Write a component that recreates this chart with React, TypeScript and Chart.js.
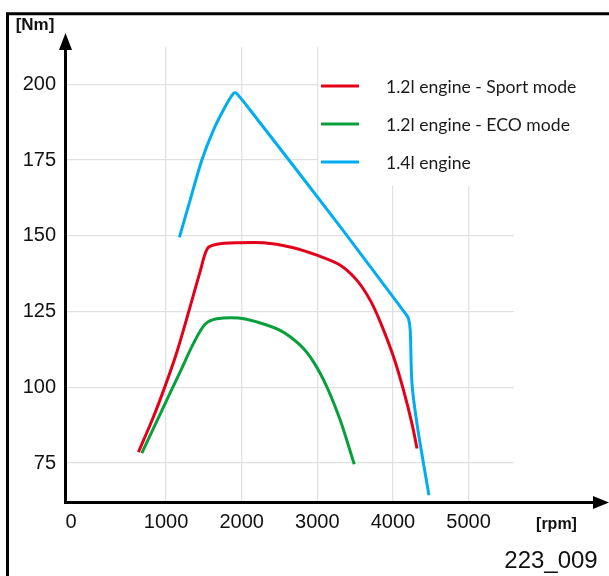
import React, { useEffect, useRef } from 'react';
import { Chart, registerables } from 'chart.js';

Chart.register(...registerables);

// ---- data ----
const seriesLabels = ['1.2l engine - Sport mode', '1.2l engine - ECO mode', '1.4l engine'];

const rpmSport = [634, 832, 987, 1142, 1295, 1450, 1547, 1671, 1957, 2288, 2641, 2994, 3303, 3524, 3700, 3833, 4008, 4140, 4251, 4318];
const nmSport = [78.6, 90.2, 100.4, 111.6, 124.6, 138.2, 145.8, 147.2, 147.7, 147.7, 146.3, 143.6, 140.3, 135.3, 128.7, 121.5, 110.0, 99.0, 88.0, 79.8];

const rpmEco = [679, 965, 1186, 1362, 1516, 1671, 1957, 2200, 2508, 2773, 2949, 3127, 3303, 3488];
const nmEco = [78.3, 93.5, 105.1, 114.5, 120.8, 122.6, 122.9, 121.6, 118.8, 113.9, 108.4, 100.1, 89.1, 74.6];

const rpm14 = [1176, 1318, 1473, 1626, 1781, 1891, 1926, 2111, 3236, 3833, 4162, 4205, 4228, 4251, 4317, 4475];
const nm14 = [149.5, 161.8, 175.0, 184.9, 192.6, 197.0, 197.1, 191.5, 155.2, 135.4, 124.4, 122.7, 118.8, 101.3, 88.0, 64.4];

const xTickValues = [1000, 2000, 3000, 4000, 5000];
const xZeroLabel = '0';
const yTickValues = [75, 100, 125, 150, 175, 200];
const yAxisTitle = '[Nm]';
const xAxisTitle = '[rpm]';
const figureId = '223_009';

// ---- styling / layout constants ----
const COLORS = ['#e3001b', '#08a03c', '#00aeef'];
const X_MIN = -330;
const X_MAX = 5600;
const X_ZERO_POS = -257; // where the "0" label sits in the drawing
const Y_MIN = 62;
const Y_MAX = 212.3;
const W = 609;
const H = 576;
const TICK_FONT = { family: '"Liberation Sans", Arial, sans-serif', size: 20 };
const GRID_COLOR = '#e1e1e1';

function toPoints(xs: number[], ys: number[]) {
  return xs.map((x, i) => ({ x, y: ys[i] }));
}

const decorPlugin = {
  id: 'decor',
  beforeDatasetsDraw(chart: any) {
    const { ctx, chartArea } = chart;
    ctx.save();
    ctx.fillStyle = '#ffffff';
    ctx.fillRect(318.5, chartArea.top - 2, chartArea.right - 318.5 + 2, 186 - chartArea.top + 2);
    ctx.restore();
  },
  afterDraw(chart: any) {
    const { ctx, chartArea } = chart;
    const ax = chartArea.left;
    const ay = chartArea.bottom;
    ctx.save();
    // frame
    ctx.strokeStyle = '#000';
    ctx.lineWidth = 3;
    ctx.beginPath();
    ctx.moveTo(7.5, H + 10);
    ctx.lineTo(7.5, 13.7);
    ctx.lineTo(W + 10, 13.7);
    ctx.stroke();

    // y axis with arrow
    ctx.lineWidth = 3;
    ctx.beginPath();
    ctx.moveTo(ax, ay + 1.5);
    ctx.lineTo(ax, 46);
    ctx.stroke();
    ctx.fillStyle = '#000';
    ctx.beginPath();
    ctx.moveTo(ax, 33);
    ctx.lineTo(ax - 6.5, 50);
    ctx.lineTo(ax + 6.5, 50);
    ctx.closePath();
    ctx.fill();

    // x axis with arrow
    ctx.beginPath();
    ctx.moveTo(ax - 1.5, ay);
    ctx.lineTo(596, ay);
    ctx.stroke();
    ctx.beginPath();
    ctx.moveTo(609, ay);
    ctx.lineTo(593, ay - 6.5);
    ctx.lineTo(593, ay + 6.5);
    ctx.closePath();
    ctx.fill();

    // titles
    ctx.fillStyle = '#111';
    ctx.textBaseline = 'middle';
    ctx.textAlign = 'center';
    ctx.font = 'bold 17px "Liberation Sans", Arial, sans-serif';
    ctx.fillText(yAxisTitle, 35, 25.5);
    ctx.font = 'bold 16px "Liberation Sans", Arial, sans-serif';
    ctx.fillText(xAxisTitle, 556.5, 525);
    ctx.font = '24px "Liberation Sans", Arial, sans-serif';
    ctx.fillText(figureId, 551, 561);

    // legend
    const ys = [86, 124, 162];
    ctx.textAlign = 'left';
    ctx.font = '17.6px Lato, "Noto Sans", sans-serif';
    chart.data.datasets.forEach((ds: any, i: number) => {
      ctx.strokeStyle = ds.borderColor;
      ctx.lineWidth = 3;
      ctx.beginPath();
      ctx.moveTo(321, ys[i]);
      ctx.lineTo(359, ys[i]);
      ctx.stroke();
      ctx.fillStyle = '#1a1a1a';
      ctx.fillText(ds.label, 386, ys[i] + 1);
    });
    ctx.restore();
  },
};

export default function App() {
  const ref = useRef<HTMLCanvasElement>(null);
  useEffect(() => {
    const canvas = ref.current;
    if (!canvas) return;
    const seriesX = [rpmSport, rpmEco, rpm14];
    const seriesY = [nmSport, nmEco, nm14];
    const chart = new Chart(canvas, {
      type: 'line',
      data: {
        datasets: seriesLabels.map((label, i) => ({
          label,
          data: toPoints(seriesX[i], seriesY[i]),
          borderColor: COLORS[i],
          backgroundColor: COLORS[i],
          borderWidth: 3,
          pointRadius: 0,
          fill: false,
          tension: 0.3,
          clip: false as any,
        })),
      },
      options: {
        responsive: false,
        animation: false,
        layout: { padding: { left: 0, right: 95, top: 47, bottom: 0 } },
        plugins: { legend: { display: false }, tooltip: { enabled: false } },
        scales: {
          x: {
            type: 'linear',
            min: X_MIN,
            max: X_MAX,
            afterFit: (s: any) => { s.height = 73.5; },
            afterBuildTicks: (s: any) => {
              s.ticks = [{ value: X_ZERO_POS }, ...xTickValues.map((v) => ({ value: v }))];
            },
            ticks: {
              autoSkip: false,
              maxRotation: 0,
              font: TICK_FONT,
              color: '#111',
              padding: 8,
              callback: (v: any) => (v === X_ZERO_POS ? xZeroLabel : String(v)),
            },
            grid: {
              color: (c: any) => (c.tick && c.tick.value < 0 ? 'rgba(0,0,0,0)' : GRID_COLOR),
              lineWidth: 1.3,
              drawTicks: false,
            },
            border: { display: false },
          },
          y: {
            type: 'linear',
            min: Y_MIN,
            max: Y_MAX,
            afterFit: (s: any) => { s.width = 65.5; },
            afterBuildTicks: (s: any) => {
              s.ticks = yTickValues.map((v) => ({ value: v }));
            },
            ticks: {
              font: TICK_FONT,
              color: '#111',
              padding: 9.5,
            },
            grid: { color: GRID_COLOR, lineWidth: 1.3, drawTicks: false },
            border: { display: false },
          },
        },
      },
      plugins: [decorPlugin],
    });
    return () => chart.destroy();
  }, []);

  return (
    <div style={{ position: 'fixed', left: 0, top: 0, width: W, height: H, background: '#fff' }}>
      <canvas ref={ref} width={W} height={H} style={{ width: W, height: H, display: 'block' }} />
    </div>
  );
}
